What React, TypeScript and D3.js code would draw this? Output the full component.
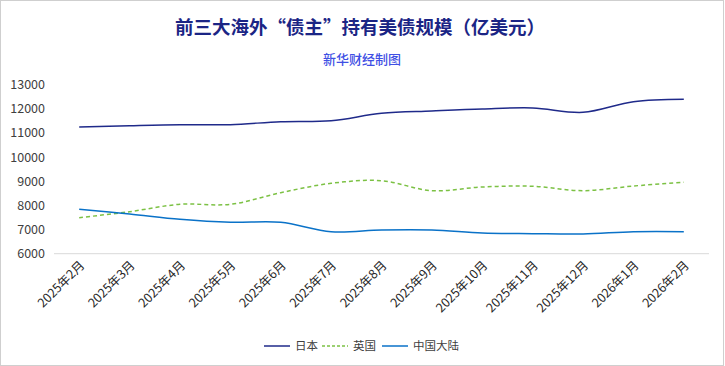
import React from 'react';
import { scalePoint, scaleLinear, line, curveCatmullRom } from 'd3';

const d3 = { scalePoint, scaleLinear, line, curveCatmullRom };

const months = [
    '2025年2月', '2025年3月', '2025年4月', '2025年5月', '2025年6月', '2025年7月', '2025年8月',
    '2025年9月', '2025年10月', '2025年11月', '2025年12月', '2026年1月', '2026年2月',
];
const japan = [11248, 11302, 11344, 11344, 11468, 11510, 11816, 11911, 11994, 12036, 11858, 12297, 12396];
const uk = [7491, 7740, 8046, 8046, 8527, 8916, 9024, 8610, 8763, 8792, 8610, 8804, 8958];
const china = [7839, 7645, 7425, 7301, 7301, 6911, 6982, 6982, 6857, 6829, 6816, 6911, 6911];
const yTicks = [6000, 7000, 8000, 9000, 10000, 11000, 12000, 13000];

const series = [
    { name: '日本', values: japan, color: '#1f2a8a', dash: null },
    { name: '英国', values: uk, color: '#7cc144', dash: '4 3' },
    { name: '中国大陆', values: china, color: '#0a72c8', dash: null },
];

const W = 725;
const H = 366;
const FONT = '"Noto Sans CJK SC", "Noto Sans", sans-serif';

const App = () => {
    const x = d3.scalePoint<string>()
        .domain(months)
        .range([54, 709])
        .padding(0.5);

    const y = d3.scaleLinear()
        .domain([6000, 13000])
        .range([253.7, 84.7]);

    const path = d3.line<number>()
        .x((_, i) => x(months[i]) as number)
        .y(v => y(v))
        .curve(d3.curveCatmullRom.alpha(0.5));

    // legend layout (line sample + label)
    const legendPos = [264, 322, 382];

    return (
        <div style={{ position: 'fixed', left: 0, top: 0 }}>
            <svg width={W} height={H} style={{ display: 'block', fontFamily: FONT }}>
                <rect x={0.5} y={0.5} width={W - 2} height={H - 1} fill="#fff" stroke="#cfcfcf" />

                <text x={360} y={34} textAnchor="middle" fontSize={18.5} fontWeight="bold" fill="#1b2585">
                    前三大海外“债主”持有美债规模（亿美元）
                </text>
                <text x={362} y={64} textAnchor="middle" fontSize={13} fontWeight={500} fill="#3f50e4">
                    新华财经制图
                </text>

                {yTicks.map(t => (
                    <text key={t} x={45} y={y(t)} dy="0.35em" textAnchor="end" fontSize={12.5} fill="#404040">
                        {t}
                    </text>
                ))}

                <line x1={54} x2={709} y1={y(6000)} y2={y(6000)} stroke="#d9d9d9" strokeWidth={1} />

                {months.map(m => {
                    const px = (x(m) as number) + 3;
                    const py = 263;
                    return (
                        <text key={m} x={px} y={py} transform={`rotate(-45 ${px} ${py})`}
                            textAnchor="end" dy="0.35em" fontSize={12.5} fill="#262626">
                            {m}
                        </text>
                    );
                })}

                {series.map(s => (
                    <path key={s.name} d={path(s.values) || ''} fill="none" stroke={s.color}
                        strokeWidth={1.5} strokeDasharray={s.dash || undefined} />
                ))}

                {series.map((s, i) => (
                    <g key={s.name} transform={`translate(${legendPos[i]},346)`}>
                        <line x1={0} x2={26} y1={0} y2={0} stroke={s.color} strokeWidth={1.5}
                            strokeDasharray={s.dash ? '3 2' : undefined} />
                        <text x={31} y={0} dy="0.35em" fontSize={11.5} fill="#404040">{s.name}</text>
                    </g>
                ))}
            </svg>
        </div>
    );
};

export default App;
